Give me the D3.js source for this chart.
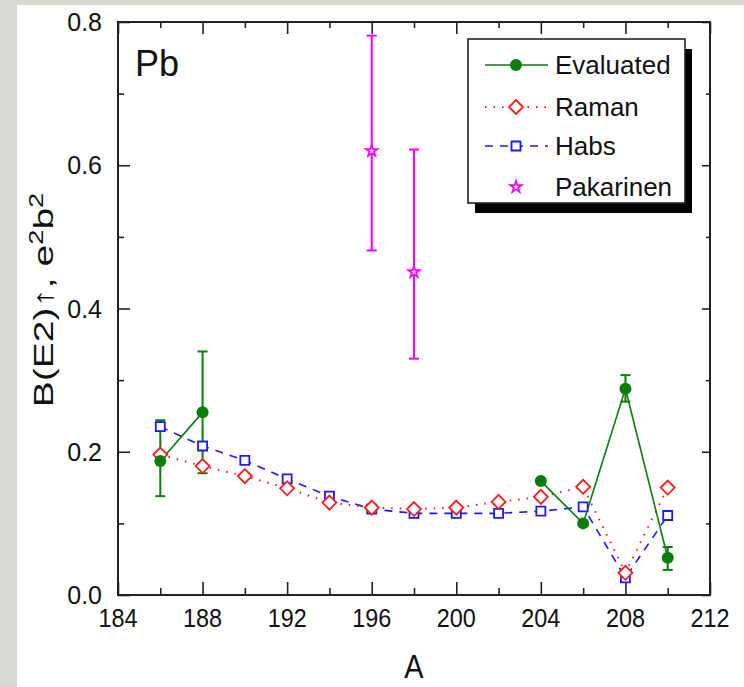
<!DOCTYPE html>
<html>
<head>
<meta charset="utf-8">
<script src="https://cdn.jsdelivr.net/npm/d3@7"></script>
<style>
  html, body { margin:0; padding:0; background:#ffffff; }
  #chart-area { width:744px; height:687px; }
  text { font-family: "Liberation Sans", Arial, sans-serif; fill:#111; }
</style>
</head>
<body>
<div id="chart-area"></div>
<script>
// mass numbers A
var massA = [186, 188, 190, 192, 194, 196, 198, 200, 202, 204, 206, 208, 210];
// Raman (red diamonds)
var ramanVals = [0.196, 0.180, 0.166, 0.149, 0.129, 0.122, 0.120, 0.122, 0.130, 0.137, 0.151, 0.031, 0.150];
// Habs (blue squares)
var habsVals = [0.235, 0.208, 0.188, 0.162, 0.138, 0.120, 0.114, 0.114, 0.114, 0.117, 0.123, 0.024, 0.111];

// Evaluated (green), null = no value (line breaks)
var evalA   = [186, 188, 190, 204, 206, 208, 210];
var evalVal = [0.187, 0.255, null, 0.159, 0.100, 0.288, 0.052];
var evalLo  = [0.138, 0.170, null, 0.156, 0.097, 0.270, 0.035];
var evalHi  = [0.244, 0.340, null, 0.162, 0.103, 0.307, 0.067];

// Pakarinen (magenta stars)
var pakA   = [196, 198];
var pakVal = [0.620, 0.451];
var pakLo  = [0.481, 0.330];
var pakHi  = [0.781, 0.622];

var xTicks = [184, 188, 192, 196, 200, 204, 208, 212];
var yTicks = [0.0, 0.2, 0.4, 0.6, 0.8];

var legendNames = ["Evaluated", "Raman", "Habs", "Pakarinen"];

var GREEN = "#0a7d0a", RED = "#ff1a1a", BLUE = "#1a1aff", MAG = "#ff00ff";

var W = 744, H = 687;
var plot = { left:118, right:710, top:22, bottom:595 };

var svg = d3.select("#chart-area")
  .append("svg")
    .attr("width", W)
    .attr("height", H);

// grey page edges
svg.append("rect").attr("x", 0).attr("y", 0).attr("width", W).attr("height", H).attr("fill", "#d9d9d3");
svg.append("rect").attr("x", 17).attr("y", 5).attr("width", W - 17).attr("height", H - 5).attr("fill", "#ffffff");

var x = d3.scaleLinear().domain([184, 212]).range([plot.left, plot.right]);
var y = d3.scaleLinear().domain([0, 0.8]).range([plot.bottom, plot.top]);

var g = svg.append("g");

// minor + major ticks, all pointing inside
function tickAxis(axisFn, scale, vals, len, pos) {
  g.append("g")
    .attr("transform", pos)
    .call(axisFn(scale).tickValues(vals).tickSize(-len).tickFormat(""))
    .call(s => s.select(".domain").remove())
    .selectAll("line").attr("stroke", "#222").attr("stroke-width", 1.6);
}
var xMinor = d3.range(186, 212, 4);
var yMinor = [0.1, 0.3, 0.5, 0.7];
tickAxis(d3.axisBottom, x, xTicks, 13, "translate(0," + plot.bottom + ")");
tickAxis(d3.axisBottom, x, xMinor, 7, "translate(0," + plot.bottom + ")");
tickAxis(d3.axisTop, x, xTicks, 12, "translate(0," + plot.top + ")");
tickAxis(d3.axisTop, x, xMinor, 6, "translate(0," + plot.top + ")");
tickAxis(d3.axisLeft, y, yTicks, 12, "translate(" + plot.left + ",0)");
tickAxis(d3.axisLeft, y, yMinor, 6, "translate(" + plot.left + ",0)");
tickAxis(d3.axisRight, y, yTicks, 8, "translate(" + plot.right + ",0)");
tickAxis(d3.axisRight, y, yMinor, 4, "translate(" + plot.right + ",0)");

// frame
g.append("rect")
  .attr("x", plot.left).attr("y", plot.top)
  .attr("width", plot.right - plot.left).attr("height", plot.bottom - plot.top)
  .attr("fill", "none").attr("stroke", "#222").attr("stroke-width", 2);

// tick labels
g.selectAll(".xlab").data(xTicks).enter().append("text")
  .attr("class", "xlab")
  .attr("transform", d => "translate(" + x(d) + "," + (plot.bottom + 32) + ") scale(0.9,1)")
  .attr("text-anchor", "middle")
  .attr("font-size", 26)
  .text(d => d);

g.selectAll(".ylab").data(yTicks).enter().append("text")
  .attr("class", "ylab")
  .attr("transform", d => "translate(" + (plot.left - 16) + "," + (y(d) + 9) + ")")
  .attr("text-anchor", "end")
  .attr("font-size", 25)
  .text(d => d.toFixed(1));

// axis titles
g.append("text")
  .attr("transform", "translate(" + ((plot.left + plot.right) / 2) + "," + 678 + ") scale(0.85,1)")
  .attr("text-anchor", "middle")
  .attr("font-size", 34)
  .text("A");

var yt = g.append("text")
  .attr("transform", "translate(53,300) rotate(-90) scale(1.3,0.95)")
  .attr("text-anchor", "middle")
  .attr("font-size", 30);
yt.append("tspan").text("B(E2)\u2191, e");
yt.append("tspan").attr("dy", -11).attr("font-size", 21).text("2");
yt.append("tspan").attr("dy", 11).text("b");
yt.append("tspan").attr("dy", -11).attr("font-size", 21).text("2");

// Pb label
g.append("text")
  .attr("x", 135).attr("y", 76)
  .attr("font-size", 36)
  .text("Pb");

// series lines
var ramanPts = massA.map((a, i) => ({ a: a, v: ramanVals[i] }));
var habsPts = massA.map((a, i) => ({ a: a, v: habsVals[i] }));
var evalPts = evalA.map((a, i) => ({ a: a, v: evalVal[i], lo: evalLo[i], hi: evalHi[i] }));
var pakPts = pakA.map((a, i) => ({ a: a, v: pakVal[i], lo: pakLo[i], hi: pakHi[i] }));

var line = d3.line()
  .defined(d => d.v != null)
  .x(d => x(d.a))
  .y(d => y(d.v));

g.append("path").datum(habsPts)
  .attr("d", line).attr("fill", "none")
  .attr("stroke", BLUE).attr("stroke-width", 1.6).attr("stroke-dasharray", "8,7");

g.append("path").datum(ramanPts)
  .attr("d", line).attr("fill", "none")
  .attr("stroke", RED).attr("stroke-width", 2).attr("stroke-dasharray", "1.5,7");

g.append("path").datum(evalPts)
  .attr("d", line).attr("fill", "none")
  .attr("stroke", GREEN).attr("stroke-width", 1.6);

// error bars
function errBars(data, color) {
  var eb = g.append("g").selectAll("g").data(data.filter(d => d.v != null)).enter().append("g")
    .attr("stroke", color).attr("stroke-width", 2);
  eb.append("line")
    .attr("x1", d => x(d.a)).attr("x2", d => x(d.a))
    .attr("y1", d => y(d.lo)).attr("y2", d => y(d.hi));
  eb.append("line")
    .attr("x1", d => x(d.a) - 5).attr("x2", d => x(d.a) + 5)
    .attr("y1", d => y(d.lo)).attr("y2", d => y(d.lo));
  eb.append("line")
    .attr("x1", d => x(d.a) - 5).attr("x2", d => x(d.a) + 5)
    .attr("y1", d => y(d.hi)).attr("y2", d => y(d.hi));
}
errBars(evalPts, GREEN);
errBars(pakPts, MAG);

// markers
var sq = d3.symbol().type(d3.symbolSquare).size(81);
var dia = "M0,-7L7,0L0,7L-7,0Z";
var star = d3.symbol().type(d3.symbolStar).size(40);

g.append("g").selectAll("path").data(habsPts).enter().append("path")
  .attr("d", sq)
  .attr("transform", d => "translate(" + x(d.a) + "," + y(d.v) + ")")
  .attr("fill", "#fff").attr("stroke", BLUE).attr("stroke-width", 1.8);

g.append("g").selectAll("path").data(ramanPts).enter().append("path")
  .attr("d", dia)
  .attr("transform", d => "translate(" + x(d.a) + "," + y(d.v) + ")")
  .attr("fill", "#fff").attr("stroke", RED).attr("stroke-width", 1.8);

g.append("g").selectAll("circle").data(evalPts.filter(d => d.v != null)).enter().append("circle")
  .attr("cx", d => x(d.a)).attr("cy", d => y(d.v))
  .attr("r", 6).attr("fill", GREEN);

g.append("g").selectAll("path").data(pakPts).enter().append("path")
  .attr("d", star)
  .attr("transform", d => "translate(" + x(d.a) + "," + y(d.v) + ")")
  .attr("fill", "#fff").attr("stroke", MAG).attr("stroke-width", 1.8);

// legend
var lg = g.append("g").attr("transform", "translate(468,39)");
lg.append("rect").attr("x", 7).attr("y", 10).attr("width", 217).attr("height", 164).attr("fill", "#000");
lg.append("rect").attr("x", 0).attr("y", 0).attr("width", 217).attr("height", 164)
  .attr("fill", "#fff").attr("stroke", "#222").attr("stroke-width", 1.6);

var legY = [26, 68, 107, 148];
var legStyle = [
  { color: GREEN, dash: null, sym: "circle" },
  { color: RED, dash: "1.5,7", sym: dia },
  { color: BLUE, dash: "8,7", sym: sq },
  { color: MAG, dash: null, sym: star }
];
legendNames.forEach(function(name, i) {
  var st = legStyle[i];
  var row = lg.append("g").attr("transform", "translate(0," + legY[i] + ")");
  if (i < 3) {
    row.append("line").attr("x1", 17).attr("x2", 80).attr("y1", 0).attr("y2", 0)
      .attr("stroke", st.color).attr("stroke-width", i == 1 ? 2 : 1.6)
      .attr("stroke-dasharray", st.dash);
  }
  if (st.sym === "circle") {
    row.append("circle").attr("cx", 48).attr("cy", 0).attr("r", 6).attr("fill", st.color);
  } else {
    row.append("path").attr("d", st.sym).attr("transform", "translate(48,0)")
      .attr("fill", "#fff").attr("stroke", st.color).attr("stroke-width", 1.8);
  }
  row.append("text").attr("x", 87).attr("y", 9).attr("font-size", 26).text(name);
});
</script>
</body>
</html>
